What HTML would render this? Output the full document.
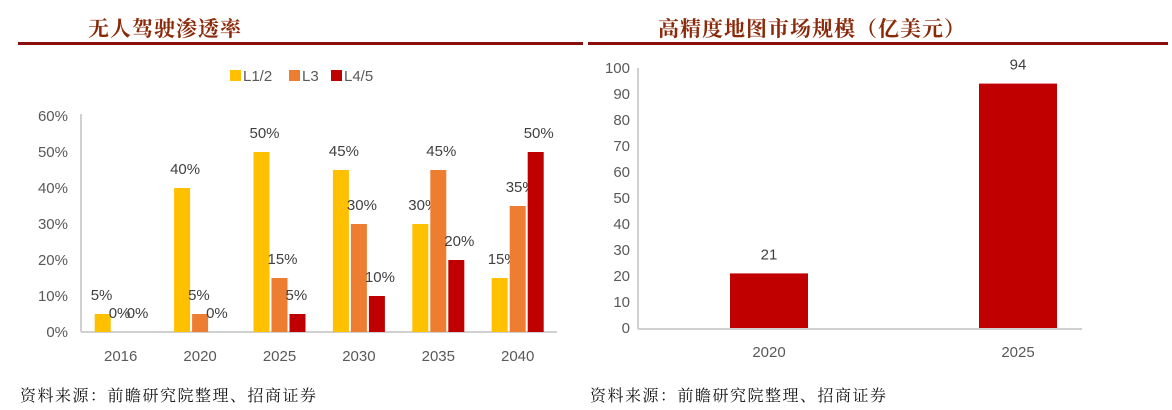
<!DOCTYPE html>
<html><head><meta charset="utf-8"><style>
body{margin:0;background:#fff;width:1172px;height:410px;overflow:hidden;position:relative;font-family:"Liberation Sans","Noto Sans CJK SC",sans-serif}
.t{position:absolute;font-family:"Liberation Serif","Noto Serif CJK SC",serif;font-weight:bold;color:#8B2a0a;font-size:21px;letter-spacing:1px}
.src{position:absolute;font-family:"Liberation Serif","Noto Serif CJK SC",serif;font-size:16px;color:#111;letter-spacing:1.5px}
.ln{position:absolute;height:3px;background:#8B0d0d}
</style></head><body>
<div class="t" style="left:88px;top:13px">无人驾驶渗透率</div>
<div class="ln" style="left:18px;top:42px;width:565px"></div>
<div class="t" style="left:658px;top:13px">高精度地图市场规模（亿美元）</div>
<div class="ln" style="left:588px;top:42px;width:580px"></div>
<div class="src" style="left:20px;top:383px">资料来源：前瞻研究院整理、招商证券</div>
<div class="src" style="left:590px;top:383px">资料来源：前瞻研究院整理、招商证券</div>
<svg id="c" width="1172" height="410" style="position:absolute;left:0;top:0"></svg>
<script>
const years=['2016','2020','2025','2030','2035','2040'];
const l12=[5,40,50,45,30,15];
const l3=[0,5,15,30,45,35];
const l45=[0,0,5,10,20,50];
const leftTicks=[0,10,20,30,40,50,60];
const rYears=['2020','2025'];
const rVals=[21,94];
const rTicks=[0,10,20,30,40,50,60,70,80,90,100];
const colors=['#FFC000','#ED7D31','#C00000'];
const names=['L1/2','L3','L4/5'];
const svg=document.getElementById('c');
const NS='http://www.w3.org/2000/svg';
function mk(t,a,txt){const e=document.createElementNS(NS,t);for(const k in a)e.setAttribute(k,a[k]);if(txt!==undefined)e.textContent=txt;svg.appendChild(e);return e;}
const ly=v=>332-v*3.6;
const lx=i=>81+(i+0.5)*79.4;
mk('line',{x1:81,y1:114,x2:81,y2:332,stroke:'#d0d0d0','stroke-width':2});
mk('line',{x1:81,y1:332,x2:557,y2:332,stroke:'#d0d0d0','stroke-width':2});
leftTicks.forEach(v=>{const e=mk('text',{x:68,y:ly(v)+5,'text-anchor':'end','font-size':15,fill:'#595959'},v+'%');

});
years.forEach((y,i)=>{const e=mk('text',{x:lx(i),y:361,'text-anchor':'middle','font-size':15,fill:'#595959'},y);

});
[l12,l3,l45].forEach((s,k)=>{s.forEach((v,i)=>{const x=lx(i)+(k-1)*18-8;
const r=mk('rect',{x:x,y:ly(v),width:16,height:v*3.6,fill:colors[k]});


const t=mk('text',{x:x-4,y:ly(v)-14,'font-size':15,fill:'#404040'},v+'%');

});});
names.forEach((n,k)=>{const x=[230,289,331][k];
const r=mk('rect',{x:x,y:70,width:11,height:11,fill:colors[k]});


const t=mk('text',{x:x+13,y:81,'font-size':15,fill:'#595959'},n);

});
const ry=v=>328-v*2.6;
const rx=i=>769+i*249;
mk('line',{x1:638,y1:68,x2:638,y2:329,stroke:'#d0d0d0','stroke-width':2});
mk('line',{x1:638,y1:329,x2:1082,y2:329,stroke:'#d0d0d0','stroke-width':2});
rTicks.forEach(v=>{const e=mk('text',{x:630,y:ry(v)+5,'text-anchor':'end','font-size':15,fill:'#595959'},v);

});
rYears.forEach((y,i)=>{const e=mk('text',{x:rx(i),y:357,'text-anchor':'middle','font-size':15,fill:'#595959'},y);


const r=mk('rect',{x:rx(i)-39,y:ry(rVals[i]),width:78,height:rVals[i]*2.6,fill:'#C00000'});


const t=mk('text',{x:rx(i),y:ry(rVals[i])-14,'text-anchor':'middle','font-size':15,fill:'#404040'},rVals[i]);

});
</script>
</body></html>
